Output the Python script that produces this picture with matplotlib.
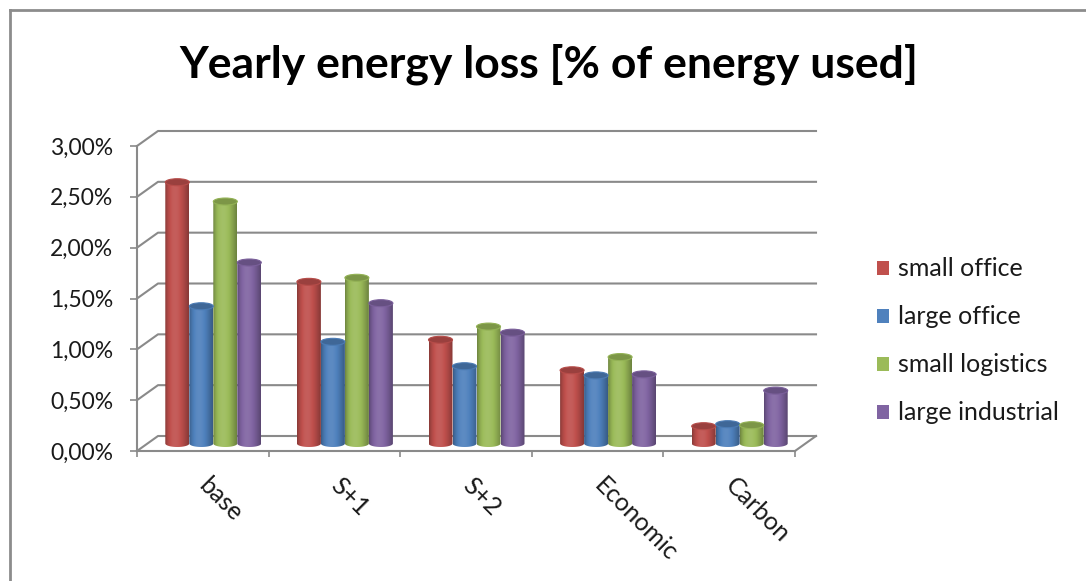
import numpy as np
import matplotlib
matplotlib.use('Agg')
import matplotlib.pyplot as plt
from matplotlib.patches import Ellipse, Patch
from matplotlib.path import Path
from matplotlib.lines import Line2D
from matplotlib.ticker import FuncFormatter
import matplotlib.colors as mcolors

# Yearly energy loss per scenario, % of energy used
categories = ['base', 'S+1', 'S+2', 'Economic', 'Carbon']
series_names = ['small office', 'large office', 'small logistics', 'large industrial']
small_office = [2.57, 1.59, 1.02, 0.72, 0.17]
large_office = [1.35, 1.00, 0.76, 0.67, 0.19]
small_logistics = [2.38, 1.63, 1.15, 0.85, 0.18]
large_industrial = [1.78, 1.38, 1.09, 0.68, 0.52]
y_ticks = [0.0, 0.5, 1.0, 1.5, 2.0, 2.5, 3.0]

series = [small_office, large_office, small_logistics, large_industrial]
colors = ['#C0504D', '#4F81BD', '#9BBB59', '#8064A2']
GRID = '#8a8a8a'
TEXT = '#1a1a1a'
FONT = 'Lato'

W, H, DPI = 1086, 581, 100
fig = plt.figure(figsize=(W / DPI, H / DPI), dpi=DPI)

# front plane of the 3D box, in pixels
left, right, top, bottom = 137, 795, 146, 451
ax = fig.add_axes([left / W, (H - bottom) / H, (right - left) / W, (bottom - top) / H])
ymax = y_ticks[-1]
ax.set_xlim(0, len(categories))
ax.set_ylim(0, ymax)

# depth offset of the back wall (21 px right, 15 px up) in data units
DX = 21 * len(categories) / (right - left)
DY = 15 * ymax / (bottom - top)

for s in ['top', 'right']:
    ax.spines[s].set_visible(False)
for s in ['left', 'bottom']:
    ax.spines[s].set_color(GRID)
    ax.spines[s].set_linewidth(1.5)

# side wall + back wall gridlines
for v in y_ticks:
    ax.plot([0, DX, len(categories) + DX], [v, v + DY, v + DY],
            color=GRID, lw=1.5, clip_on=False, zorder=1)
# right edge of the floor
ax.plot([len(categories), len(categories) + DX], [0, DY], color=GRID, lw=1.5,
        clip_on=False, zorder=1)

ax.set_yticks(y_ticks)
ax.yaxis.set_major_formatter(FuncFormatter(lambda v, p: f'{v:.2f}%'.replace('.', ',')))
ax.tick_params(axis='y', direction='out', length=5, width=1.2, color=GRID, pad=12,
               labelsize=16.5, labelcolor=TEXT)
for lab in ax.get_yticklabels():
    lab.set_family(FONT)

ax.set_xticks(np.arange(len(categories) + 1))
ax.set_xticklabels([])
ax.tick_params(axis='x', which='major', direction='out', length=4.5, width=1.2, color=GRID)
ax.set_xticks(np.arange(len(categories)) + 0.5, categories, minor=True)
ax.tick_params(axis='x', which='minor', length=0, pad=22, labelsize=18, labelcolor=TEXT)
for lab in ax.get_xticklabels(minor=True):
    lab.set_rotation(-45)
    lab.set_ha('left')
    lab.set_va('center')
    lab.set_rotation_mode('anchor')
    lab.set_family(FONT)


def shade(rgb, f):
    rgb = np.array(rgb)
    if f <= 1:
        return rgb * f
    return rgb + (1 - rgb) * (f - 1)


# cylinders
bw = 24 * len(categories) / (right - left)
gap = 1 - len(series) * bw
eh = 7 * ymax / (bottom - top)
t = np.linspace(0, 1, 64)
profile = 0.70 + 0.38 * np.sin(np.pi * t ** 0.8)

for j, vals in enumerate(series):
    base_rgb = mcolors.to_rgb(colors[j])
    grad = np.array([[shade(base_rgb, f) for f in profile]])
    for i, v in enumerate(vals):
        x0 = i + DX / 2 + gap / 2 + j * bw
        x1 = x0 + bw
        xc = (x0 + x1) / 2
        y0 = DY / 2
        yt = v + DY / 2
        a = np.linspace(np.pi, 2 * np.pi, 40)
        verts = ([(x0, yt), (x0, y0)]
                 + list(zip(xc + bw / 2 * np.cos(a), y0 + eh / 2 * np.sin(a)))
                 + [(x1, y0), (x1, yt), (x0, yt)])
        body = Path(verts)
        im = ax.imshow(grad, extent=[x0, x1, y0 - eh / 2, yt], aspect='auto',
                       origin='lower', interpolation='bilinear', zorder=3)
        im.set_clip_path(body, transform=ax.transData)
        ax.add_patch(Ellipse((xc, yt), bw, eh, facecolor=shade(base_rgb, 0.8),
                             edgecolor=shade(base_rgb, 0.95), lw=0.8, zorder=4))

ax.set_xlim(0, len(categories))
ax.set_ylim(0, ymax)

fig.text(549 / W, 1 - 64 / H, 'Yearly energy loss [% of energy used]', ha='center',
         va='center', fontsize=32, fontweight='bold', family=FONT, color='black')

handles = [Patch(facecolor=c, edgecolor='none') for c in colors]
fig.legend(handles, series_names, loc='center left', bbox_to_anchor=(854 / W, 1 - 341 / H),
           frameon=False, prop={'family': FONT, 'size': 18}, handlelength=0.48,
           handleheight=0.48, handletextpad=0.36, labelspacing=1.0,
           labelcolor=TEXT)

# chart frame
fig.add_artist(Line2D([10 / W, 1], [1 - 10 / H, 1 - 10 / H], color='#8c8c8c', lw=2,
                      transform=fig.transFigure))
fig.add_artist(Line2D([10 / W, 10 / W], [0, 1 - 10 / H], color='#8c8c8c', lw=2,
                      transform=fig.transFigure))

fig.savefig('out.png', dpi=DPI)
